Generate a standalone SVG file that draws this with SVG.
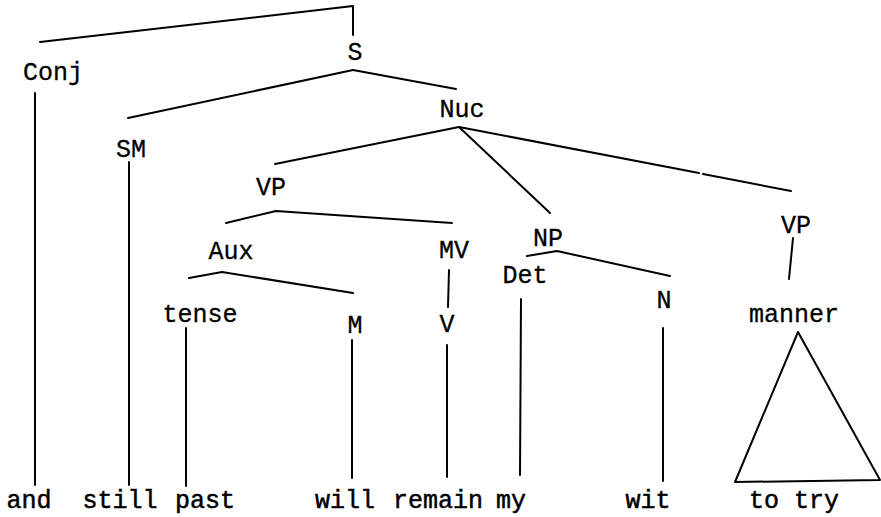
<svg xmlns="http://www.w3.org/2000/svg" width="881" height="517" viewBox="0 0 881 517">
<style>
.lbl{font-family:"Liberation Mono","DejaVu Sans Mono",monospace;font-size:25px;fill:#000;stroke:#000;stroke-width:0.3;text-anchor:middle}
.leaf{font-family:"Liberation Mono","DejaVu Sans Mono",monospace;font-size:25px;fill:#000;stroke:#000;stroke-width:0.5;text-anchor:middle}
.e{stroke:#000;stroke-width:2;fill:none;stroke-linecap:round;stroke-linejoin:round}
</style>
<rect width="881" height="517" fill="#fff"/>
<g id="connectors" class="e">
<polyline points="40,42 353,6 353,35"/>
<line x1="353" y1="70" x2="128" y2="118"/>
<line x1="353" y1="70" x2="456" y2="89"/>
<line x1="459" y1="127" x2="275" y2="164"/>
<line x1="459" y1="127" x2="550" y2="213"/>
<line x1="459" y1="127" x2="699" y2="173"/>
<line x1="703" y1="174" x2="791" y2="191"/>
<polyline points="226,223 276,211 452,223"/>
<polyline points="189,278 222,272 353,293"/>
<line x1="449" y1="270" x2="448" y2="307"/>
<polyline points="527,256 557,251 670,276"/>
<line x1="793" y1="238" x2="789" y2="279"/>
<line x1="35" y1="93" x2="35" y2="485"/>
<line x1="129" y1="162" x2="129" y2="485"/>
<line x1="186" y1="328" x2="186" y2="486"/>
<line x1="352" y1="340" x2="352" y2="478"/>
<line x1="447" y1="345" x2="447" y2="477"/>
<line x1="521" y1="299" x2="520" y2="475"/>
<line x1="663" y1="328" x2="663" y2="481"/>
<polygon points="798,332 735,482 880,480"/>
</g>
<g id="n-S"><text class="lbl" x="355" y="60">S</text></g>
<g id="n-Conj"><text class="lbl" x="53" y="80">Conj</text></g>
<g id="n-SM"><text class="lbl" x="131" y="157">SM</text></g>
<g id="n-Nuc"><text class="lbl" x="462" y="117">Nuc</text></g>
<g id="n-VP1"><text class="lbl" x="271" y="195">VP</text></g>
<g id="n-Aux"><text class="lbl" x="231" y="259">Aux</text></g>
<g id="n-MV"><text class="lbl" x="454" y="258">MV</text></g>
<g id="n-NP"><text class="lbl" x="548" y="246">NP</text></g>
<g id="n-Det"><text class="lbl" x="525" y="283">Det</text></g>
<g id="n-N"><text class="lbl" x="664" y="308">N</text></g>
<g id="n-VP2"><text class="lbl" x="796" y="233">VP</text></g>
<g id="n-tense"><text class="lbl" x="200" y="322">tense</text></g>
<g id="n-M"><text class="lbl" x="355" y="333">M</text></g>
<g id="n-V"><text class="lbl" x="447" y="332">V</text></g>
<g id="n-manner"><text class="lbl" x="794" y="322">manner</text></g>
<g id="w-and"><text class="leaf" x="29" y="508">and</text></g>
<g id="w-still"><text class="leaf" x="120" y="508">still</text></g>
<g id="w-past"><text class="leaf" x="205" y="508">past</text></g>
<g id="w-will"><text class="leaf" x="345" y="508">will</text></g>
<g id="w-remain"><text class="leaf" x="438" y="508">remain</text></g>
<g id="w-my"><text class="leaf" x="511" y="508">my</text></g>
<g id="w-wit"><text class="leaf" x="648" y="508">wit</text></g>
<g id="w-totry"><text class="leaf" x="794" y="508">to try</text></g>
</svg>
